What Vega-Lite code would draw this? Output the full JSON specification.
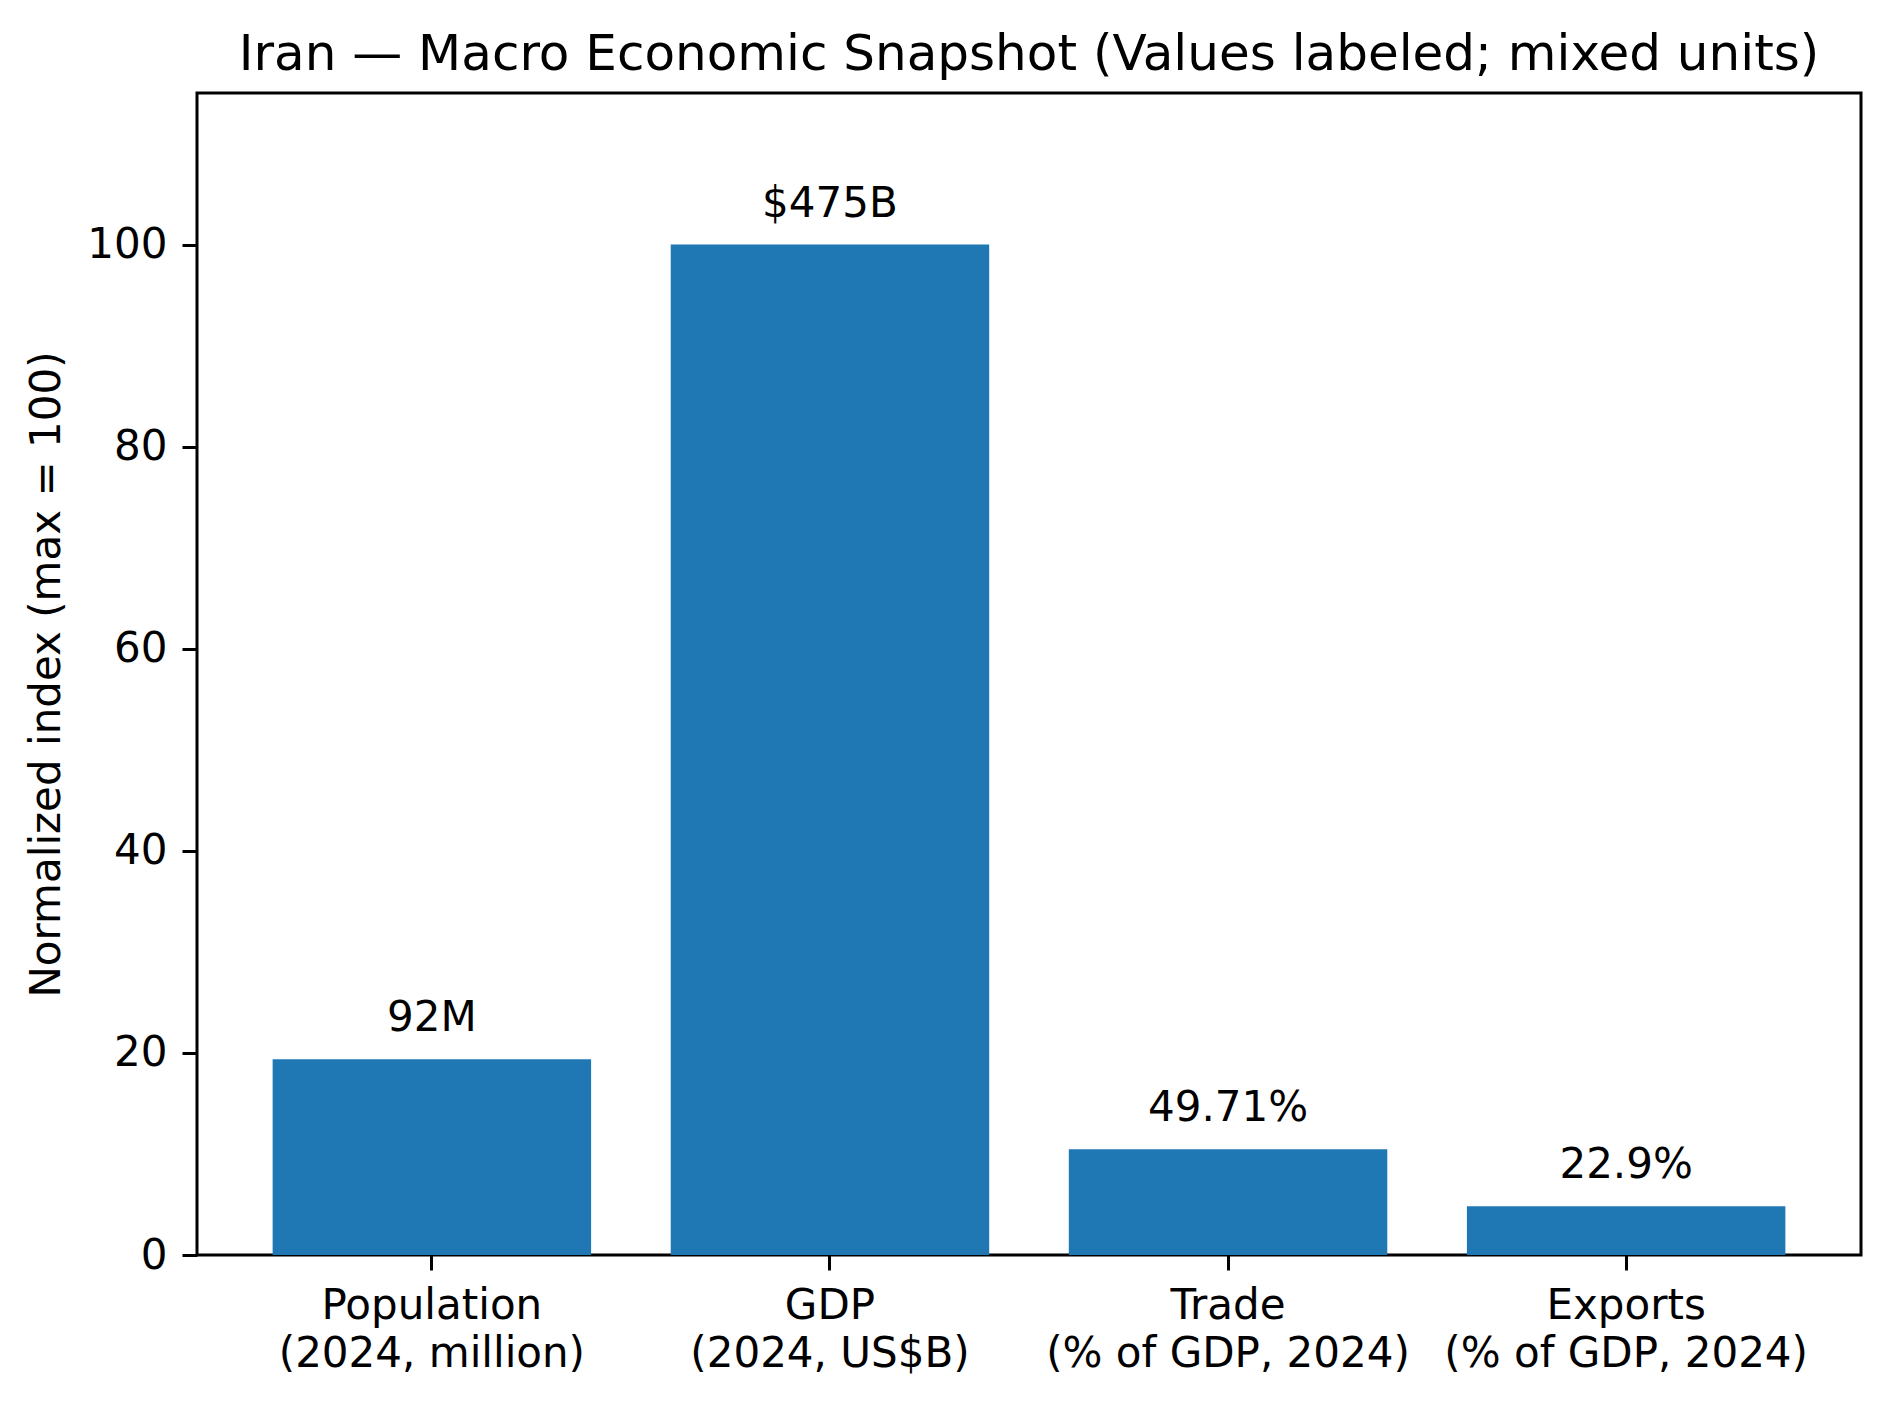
{
  "$schema": "https://vega.github.io/schema/vega-lite/v6.json",
  "autosize": {"type": "none"},
  "width": 1664,
  "height": 1162,
  "padding": {"left": 197, "top": 93, "right": 29, "bottom": 151},
  "background": "white",
  "title": {
    "text": "Iran — Macro Economic Snapshot (Values labeled; mixed units)",
    "font": "DejaVu Sans",
    "fontSize": 50,
    "fontWeight": "normal",
    "color": "black",
    "anchor": "middle",
    "baseline": "alphabetic",
    "offset": -27
  },
  "config": {
    "view": {"stroke": "black", "strokeWidth": 3},
    "axis": {
      "grid": false,
      "domain": false,
      "labelFont": "DejaVu Sans",
      "labelFontSize": 42,
      "labelColor": "black",
      "labelLimit": 0,
      "titleFont": "DejaVu Sans",
      "titleFontSize": 42,
      "titleFontWeight": "normal",
      "titleColor": "black",
      "tickColor": "black",
      "tickWidth": 3,
      "tickSize": 15,
      "labelPadding": 15
    }
  },
  "data": {
    "values": [
      {"category": "Population\n(2024, million)", "index": 19.37, "label": "92M"},
      {"category": "GDP\n(2024, US$B)", "index": 100, "label": "$475B"},
      {"category": "Trade\n(% of GDP, 2024)", "index": 10.47, "label": "49.71%"},
      {"category": "Exports\n(% of GDP, 2024)", "index": 4.82, "label": "22.9%"}
    ]
  },
  "encoding": {
    "x": {
      "field": "category",
      "type": "nominal",
      "sort": null,
      "scale": {"paddingInner": 0.2, "paddingOuter": 0.19},
      "axis": {
        "title": null,
        "labelAngle": 0,
        "labelExpr": "split(datum.value, '\\n')",
        "labelLineHeight": 48,
        "labelBaseline": "top"
      }
    },
    "y": {
      "field": "index",
      "type": "quantitative",
      "scale": {"domain": [0, 115], "nice": false},
      "axis": {
        "title": "Normalized index (max = 100)",
        "values": [0, 20, 40, 60, 80, 100],
        "titlePadding": 18
      }
    }
  },
  "layer": [
    {"mark": {"type": "bar", "color": "#1f77b4"}},
    {
      "mark": {
        "type": "text",
        "font": "DejaVu Sans",
        "fontSize": 42,
        "color": "black",
        "baseline": "alphabetic",
        "dy": -28
      },
      "encoding": {"text": {"field": "label"}}
    }
  ]
}
